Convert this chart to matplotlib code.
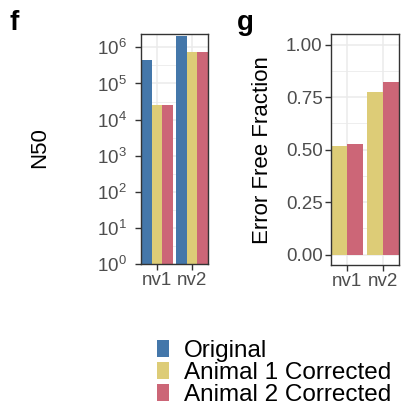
import matplotlib
matplotlib.use('Agg')
import matplotlib.pyplot as plt
import numpy as np
from matplotlib.patches import Patch
from matplotlib.ticker import FixedLocator, NullFormatter

plt.rcParams['font.family'] = ['Liberation Sans', 'DejaVu Sans']
plt.rcParams['mathtext.fontset'] = 'custom'
plt.rcParams['mathtext.rm'] = 'Liberation Sans'
plt.rcParams['mathtext.it'] = 'Liberation Sans'

# data
samples = ['nv1', 'nv2']
series = ['Original', 'Animal 1 Corrected', 'Animal 2 Corrected']
colors = ['#4477AA', '#DDCC77', '#CC6677']
n50_original = [4.5e5, 2.05e6]
n50_animal1 = [2.5e4, 7.4e5]
n50_animal2 = [2.55e4, 7.6e5]
eff_animal1 = [0.516, 0.776]
eff_animal2 = [0.524, 0.820]

grid_col = '#EBEBEB'
border_col = '#333333'
tick_col = '#4D4D4D'

fig = plt.figure(figsize=(4.03, 4.09), dpi=100)
W, H = 403, 409

def add_ax(left, right, top, bottom):
    return fig.add_axes([left / W, 1 - bottom / H, (right - left) / W, (bottom - top) / H])

def style(ax, pad):
    ax.set_axisbelow(True)
    for s in ax.spines.values():
        s.set_color(border_col)
        s.set_linewidth(1.0)
    ax.tick_params(which='major', length=4, width=1, color=border_col,
                   labelcolor=tick_col, labelsize=13.5, pad=2)
    ax.tick_params(axis='y', which='major', pad=pad)
    ax.tick_params(which='minor', length=0)
    ax.grid(True, which='major', color=grid_col, linewidth=1.1)
    ax.grid(True, which='minor', axis='y', color=grid_col, linewidth=0.6)
    ax.set_xticks(range(1, len(samples) + 1))
    ax.set_xticklabels(samples)
    ax.set_xlim(0.54, 2.46)

x = np.arange(1, len(samples) + 1)

# panel f
axf = add_ax(141, 208, 34, 264)
axf.set_yscale('log')
for i, vals in enumerate([n50_original, n50_animal1, n50_animal2]):
    axf.bar(x + (i - 1) * 0.3, vals, width=0.3, color=colors[i])
axf.set_ylim(1, 10 ** 6.37)
axf.yaxis.set_major_locator(FixedLocator([10.0 ** k for k in range(7)]))
axf.yaxis.set_minor_locator(FixedLocator([10.0 ** (k + 0.5) for k in range(7)]))
axf.yaxis.set_minor_formatter(NullFormatter())
axf.set_yticklabels([r'$10^{%d}$' % k for k in range(7)])
style(axf, 6)

# panel g
axg = add_ax(331, 399, 34, 265)
for i, vals in enumerate([eff_animal1, eff_animal2]):
    axg.bar(x + (i - 0.5) * 0.45, vals, width=0.45, color=colors[i + 1])
axg.set_ylim(-0.05, 1.05)
axg.set_yticks([0, 0.25, 0.5, 0.75, 1.0])
axg.set_yticklabels(['0.00', '0.25', '0.50', '0.75', '1.00'])
axg.yaxis.set_minor_locator(FixedLocator([0.125, 0.375, 0.625, 0.875]))
style(axg, 2)

fig.text(40 / W, 1 - 148 / H, 'N50', rotation=90, ha='center', va='center', fontsize=16)
fig.text(263 / W, 1 - 150 / H, 'Error Free Fraction', rotation=90, ha='center', va='center', fontsize=16)
fig.text(9 / W, 1 - 30 / H, 'f', fontsize=20, fontweight='bold')
fig.text(237 / W, 1 - 30 / H, 'g', fontsize=20, fontweight='bold')

handles = [Patch(facecolor=c, edgecolor='none') for c in colors]
fig.legend(handles, series, loc='center left', bbox_to_anchor=(157 / W, 1 - 373 / H),
           frameon=False, fontsize=17.5, handlelength=0.5, handleheight=0.72,
           handletextpad=0.6, labelspacing=0.0, borderpad=0, borderaxespad=0)

fig.savefig('out.png', dpi=100)
